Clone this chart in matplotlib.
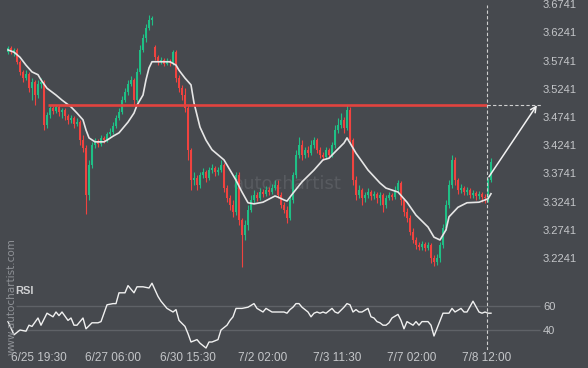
import matplotlib
matplotlib.use("Agg")
import matplotlib.pyplot as plt
import numpy as np

plt.rcParams['font.family'] = ['Liberation Sans', 'DejaVu Sans']

# candle data (price)
opens = [3.589, 3.596, 3.589, 3.593, 3.572, 3.554, 3.543, 3.550, 3.525, 3.536,
         3.513, 3.533, 3.536, 3.460, 3.478, 3.490, 3.485, 3.492, 3.483, 3.486,
         3.476, 3.469, 3.472, 3.462, 3.465, 3.433, 3.419, 3.336, 3.389, 3.424,
         3.430, 3.426, 3.437, 3.433, 3.444, 3.447, 3.458, 3.472, 3.483, 3.504,
         3.518, 3.533, 3.540, 3.504, 3.554, 3.593, 3.614, 3.632, 3.646, 3.598,
         3.580, 3.572, 3.575, 3.568, 3.573, 3.570, 3.589, 3.543, 3.525, 3.513,
         3.490, 3.416, 3.362, 3.366, 3.353, 3.371, 3.377, 3.366, 3.380, 3.384,
         3.377, 3.380, 3.389, 3.348, 3.330, 3.318, 3.306, 3.371, 3.291, 3.265,
         3.283, 3.309, 3.327, 3.336, 3.330, 3.341, 3.338, 3.345, 3.341, 3.348,
         3.353, 3.336, 3.318, 3.309, 3.295, 3.327, 3.371, 3.407, 3.424, 3.407,
         3.416, 3.410, 3.424, 3.433, 3.416, 3.407, 3.403, 3.416, 3.407, 3.424,
         3.451, 3.460, 3.469, 3.455, 3.486, 3.433, 3.362, 3.336, 3.345, 3.330,
         3.336, 3.341, 3.334, 3.338, 3.330, 3.336, 3.318, 3.330, 3.336, 3.332,
         3.345, 3.357, 3.327, 3.306, 3.295, 3.270, 3.256, 3.247, 3.244, 3.249,
         3.242, 3.247, 3.224, 3.217, 3.224, 3.247, 3.277, 3.318, 3.353, 3.398,
         3.362, 3.345, 3.348, 3.341, 3.345, 3.336, 3.339, 3.334, 3.338, 3.332,
         3.327, 3.362]
highs = [3.600, 3.600, 3.596, 3.596, 3.575, 3.557, 3.557, 3.554, 3.543, 3.540,
         3.540, 3.543, 3.540, 3.483, 3.495, 3.494, 3.495, 3.495, 3.490, 3.490,
         3.479, 3.478, 3.476, 3.472, 3.469, 3.442, 3.424, 3.398, 3.430, 3.437,
         3.435, 3.442, 3.440, 3.447, 3.455, 3.465, 3.478, 3.490, 3.511, 3.525,
         3.540, 3.547, 3.543, 3.561, 3.602, 3.621, 3.639, 3.655, 3.653, 3.602,
         3.584, 3.580, 3.579, 3.579, 3.577, 3.593, 3.593, 3.549, 3.531, 3.525,
         3.495, 3.419, 3.377, 3.371, 3.377, 3.384, 3.380, 3.385, 3.391, 3.387,
         3.385, 3.398, 3.393, 3.353, 3.336, 3.327, 3.377, 3.377, 3.295, 3.291,
         3.318, 3.336, 3.345, 3.341, 3.348, 3.346, 3.352, 3.350, 3.355, 3.362,
         3.362, 3.341, 3.323, 3.316, 3.332, 3.377, 3.416, 3.439, 3.433, 3.421,
         3.423, 3.433, 3.439, 3.437, 3.421, 3.412, 3.421, 3.419, 3.430, 3.460,
         3.472, 3.481, 3.474, 3.495, 3.492, 3.437, 3.369, 3.353, 3.348, 3.341,
         3.348, 3.345, 3.343, 3.341, 3.341, 3.339, 3.336, 3.341, 3.339, 3.352,
         3.362, 3.360, 3.330, 3.313, 3.300, 3.277, 3.261, 3.252, 3.254, 3.252,
         3.252, 3.251, 3.229, 3.231, 3.252, 3.284, 3.327, 3.362, 3.407, 3.403,
         3.366, 3.355, 3.352, 3.350, 3.348, 3.345, 3.343, 3.343, 3.341, 3.338,
         3.366, 3.401]
lows = [3.586, 3.586, 3.582, 3.568, 3.549, 3.536, 3.540, 3.518, 3.504, 3.495,
        3.508, 3.525, 3.451, 3.455, 3.472, 3.479, 3.481, 3.476, 3.472, 3.469,
        3.462, 3.463, 3.455, 3.458, 3.424, 3.412, 3.302, 3.327, 3.384, 3.419,
        3.421, 3.423, 3.428, 3.430, 3.440, 3.444, 3.455, 3.469, 3.479, 3.501,
        3.513, 3.529, 3.495, 3.501, 3.550, 3.589, 3.607, 3.628, 3.637, 3.575,
        3.566, 3.568, 3.564, 3.566, 3.564, 3.566, 3.536, 3.518, 3.504, 3.483,
        3.398, 3.345, 3.353, 3.345, 3.348, 3.366, 3.359, 3.362, 3.375, 3.369,
        3.371, 3.377, 3.341, 3.323, 3.309, 3.297, 3.300, 3.283, 3.208, 3.256,
        3.274, 3.306, 3.322, 3.325, 3.327, 3.332, 3.334, 3.336, 3.338, 3.345,
        3.330, 3.313, 3.304, 3.286, 3.291, 3.322, 3.366, 3.401, 3.398, 3.401,
        3.403, 3.407, 3.419, 3.410, 3.401, 3.398, 3.400, 3.401, 3.403, 3.419,
        3.446, 3.455, 3.446, 3.451, 3.428, 3.353, 3.327, 3.330, 3.318, 3.323,
        3.330, 3.327, 3.329, 3.322, 3.318, 3.306, 3.313, 3.327, 3.327, 3.329,
        3.341, 3.318, 3.299, 3.288, 3.265, 3.251, 3.240, 3.238, 3.238, 3.236,
        3.238, 3.215, 3.210, 3.212, 3.217, 3.242, 3.274, 3.313, 3.348, 3.353,
        3.338, 3.339, 3.336, 3.336, 3.330, 3.330, 3.327, 3.329, 3.323, 3.322,
        3.323, 3.359]
closes = [3.596, 3.589, 3.593, 3.572, 3.554, 3.543, 3.550, 3.525, 3.536, 3.513,
          3.533, 3.536, 3.460, 3.478, 3.490, 3.485, 3.492, 3.483, 3.486, 3.476,
          3.469, 3.472, 3.462, 3.465, 3.433, 3.419, 3.336, 3.389, 3.424, 3.430,
          3.426, 3.437, 3.433, 3.444, 3.447, 3.458, 3.472, 3.483, 3.504, 3.518,
          3.533, 3.540, 3.504, 3.554, 3.593, 3.614, 3.632, 3.646, 3.650, 3.580,
          3.572, 3.575, 3.568, 3.573, 3.570, 3.589, 3.543, 3.525, 3.513, 3.490,
          3.416, 3.362, 3.366, 3.353, 3.371, 3.377, 3.366, 3.380, 3.384, 3.377,
          3.380, 3.389, 3.348, 3.330, 3.318, 3.306, 3.371, 3.291, 3.265, 3.283,
          3.309, 3.327, 3.336, 3.330, 3.341, 3.338, 3.345, 3.341, 3.348, 3.353,
          3.336, 3.318, 3.309, 3.295, 3.327, 3.371, 3.407, 3.424, 3.407, 3.416,
          3.410, 3.424, 3.433, 3.416, 3.407, 3.403, 3.416, 3.407, 3.424, 3.451,
          3.460, 3.469, 3.455, 3.486, 3.433, 3.362, 3.336, 3.345, 3.330, 3.336,
          3.341, 3.334, 3.338, 3.330, 3.336, 3.318, 3.330, 3.336, 3.332, 3.345,
          3.357, 3.327, 3.306, 3.295, 3.270, 3.256, 3.247, 3.244, 3.249, 3.242,
          3.247, 3.224, 3.217, 3.224, 3.247, 3.277, 3.318, 3.353, 3.398, 3.362,
          3.345, 3.348, 3.341, 3.345, 3.336, 3.339, 3.334, 3.338, 3.332, 3.330,
          3.362, 3.394]

# moving average (candle index, price)
ma_idx = [0, 2, 4, 6, 8, 10, 11, 13, 16, 18, 21, 23, 25, 26, 27, 29, 32, 33, 35, 37,
          40, 42, 43, 45, 46, 47, 48, 54, 56, 57, 59, 61, 62, 64, 66, 68, 72, 74, 76, 78,
          80, 82, 85, 89, 90, 92, 93, 95, 98, 102, 105, 107, 109, 112, 113, 116, 120, 124,
          126, 130, 133, 136, 140, 142, 144, 146, 147, 150, 153, 157, 160, 161]
ma_val = [3.593, 3.589, 3.580, 3.566, 3.554, 3.549, 3.540, 3.525, 3.513, 3.504, 3.492,
          3.481, 3.469, 3.451, 3.437, 3.430, 3.430, 3.433, 3.440, 3.446, 3.465, 3.481,
          3.495, 3.513, 3.540, 3.561, 3.572, 3.572, 3.566, 3.557, 3.543, 3.531, 3.499,
          3.456, 3.433, 3.416, 3.398, 3.380, 3.362, 3.341, 3.322, 3.320, 3.323, 3.334,
          3.332, 3.327, 3.325, 3.339, 3.359, 3.380, 3.398, 3.401, 3.412, 3.428, 3.437,
          3.410, 3.380, 3.357, 3.348, 3.341, 3.323, 3.300, 3.279, 3.261, 3.256, 3.274,
          3.297, 3.314, 3.322, 3.323, 3.329, 3.338]

# RSI (candle index, value)
rsi_idx = [0, 2, 4, 6, 7, 8, 10, 11, 13, 15, 16, 17, 18, 20, 21, 22, 23, 25, 26, 28,
           30, 31, 33, 35, 36, 37, 39, 40, 42, 43, 45, 47, 48, 50, 51, 53, 55, 56, 57, 59,
           60, 61, 63, 64, 66, 67, 68, 70, 71, 73, 74, 75, 76, 78, 80, 82, 83, 85, 86, 88,
           90, 92, 93, 94, 95, 96, 97, 98, 100, 101, 102, 103, 104, 105, 106, 108, 109, 110,
           112, 113, 114, 115, 116, 117, 118, 120, 121, 122, 123, 124, 125, 126, 127, 128,
           130, 131, 132, 133, 135, 136, 137, 138, 140, 141, 142, 145, 147, 148, 149, 151,
           152, 153, 155, 157, 158, 159, 160, 161]
rsi_val = [47, 36, 40, 39, 44, 43, 50, 44, 54, 51, 55, 52, 55, 48, 50, 44, 44, 50, 41, 46,
           46, 47, 61, 62, 62, 71, 71, 77, 71, 76, 76, 75, 79, 68, 64, 58, 55, 57, 48, 43,
           37, 30, 32, 29, 25, 30, 30, 32, 40, 44, 48, 51, 58, 58, 59, 62, 58, 55, 58, 55,
           55, 55, 54, 57, 59, 62, 62, 59, 55, 51, 54, 55, 54, 55, 54, 58, 55, 54,
           59, 62, 61, 55, 57, 55, 55, 58, 51, 50, 47, 46, 44, 44, 46, 50,
           53, 48, 41, 47, 44, 47, 44, 47, 47, 44, 35, 54, 54, 58, 55, 58,
           55, 55, 64, 55, 54, 55, 54, 54]

price_ticks = [3.6741, 3.6241, 3.5741, 3.5241, 3.4741, 3.4241, 3.3741, 3.3241, 3.2741, 3.2241]
rsi_ticks = [60, 40]
time_pos = [10.33, 35, 60, 85, 109.67, 134.67, 159.67]
time_labels = ['6/25 19:30', '6/27 06:00', '6/30 15:30', '7/2 02:00',
               '7/3 11:30', '7/7 02:00', '7/8 12:00']
level = 3.495
level_start = 13.3
now_idx = 159.67
arrow_start = (160.3, 3.368)
target_idx = 176.3

bg = '#46494e'
up = '#1fbf85'
down = '#f0433f'
txt = '#c4c6c9'

fig = plt.figure(figsize=(5.88, 3.68), dpi=100, facecolor=bg)
ax = fig.add_axes([0, 88 / 368, 1, 280 / 368], facecolor=bg)
rx = fig.add_axes([0, 18 / 368, 1, 70 / 368], facecolor=bg, sharex=ax)

o = np.array(opens)
h = np.array(highs)
l = np.array(lows)
c = np.array(closes)
idx = np.arange(len(c))
cols = np.where(c >= o, up, down)

ax.vlines(idx, l, h, colors=cols, lw=0.8, zorder=2)
ax.bar(idx, np.maximum(np.abs(c - o), 0.0018), bottom=np.minimum(o, c),
       width=0.7, color=cols, linewidth=0, zorder=2)
ax.plot(ma_idx, ma_val, color='#e6e6e6', lw=1.2, zorder=3)

ax.hlines(level, level_start, now_idx, color='#e2433f', lw=1.9, zorder=4)
ax.hlines(level, now_idx, 178, color='#d0d0d0', lw=0.8, linestyles=(0, (3, 2)), zorder=4)
ax.axvline(now_idx, ymin=0, ymax=275 / 280, color='#cfcfcf', lw=0.8, ls=(0, (3, 2)), zorder=4)
ax.annotate('', xy=(target_idx, level), xytext=arrow_start,
            arrowprops=dict(arrowstyle='->', color='#f2f2f2', lw=1.1,
                            shrinkA=0, shrinkB=0, mutation_scale=10), zorder=5)

ax.text(0.488, 0.343, 'autochartist', transform=ax.transAxes, ha='center', va='center',
        fontsize=13, color='#585b60', family='DejaVu Sans', zorder=1)

ax.set_xlim(-8 / 3, 580 / 3)
ax.set_ylim(3.6815 - 280 * 0.001773, 3.6815)
ax.yaxis.tick_right()
ax.set_yticks(price_ticks, [f'{p:.4f}' for p in price_ticks])
ax.tick_params(axis='y', length=0, pad=-32.4, labelsize=8, labelcolor=txt)
ax.tick_params(axis='x', length=0, labelbottom=False)
for s in ax.spines.values():
    s.set_visible(False)

# RSI panel
rx.hlines(rsi_ticks, 2.7, 177.3, color='#5f6267', lw=1, zorder=1)
rx.plot(rsi_idx, rsi_val, color='#f0f0f0', lw=1, zorder=3)
rx.axvline(now_idx, color='#cfcfcf', lw=0.8, ls=(0, (3, 2)), zorder=4)
rx.text(0.026, 0.843, 'RSI', transform=rx.transAxes, ha='left', va='center',
        fontsize=8, fontweight='bold', color='#cfd0d2')
rx.set_ylim(60 - 44 / 1.2, 60 + 26 / 1.2)
rx.yaxis.tick_right()
rx.set_yticks(rsi_ticks, [str(v) for v in rsi_ticks])
rx.tick_params(axis='y', length=0, pad=-32.4, labelsize=8, labelcolor=txt)
rx.set_xticks(time_pos, time_labels)
rx.tick_params(axis='x', length=0, pad=1.5, labelsize=8.5, labelcolor=txt)
for s in rx.spines.values():
    s.set_visible(False)

fig.text(12 / 588, 1 - 297 / 368, 'www.autochartist.com', rotation=90, ha='center',
         va='center', fontsize=7.5, color='#8e9196', family='DejaVu Sans')

fig.savefig('out.png', dpi=100, facecolor=bg)
